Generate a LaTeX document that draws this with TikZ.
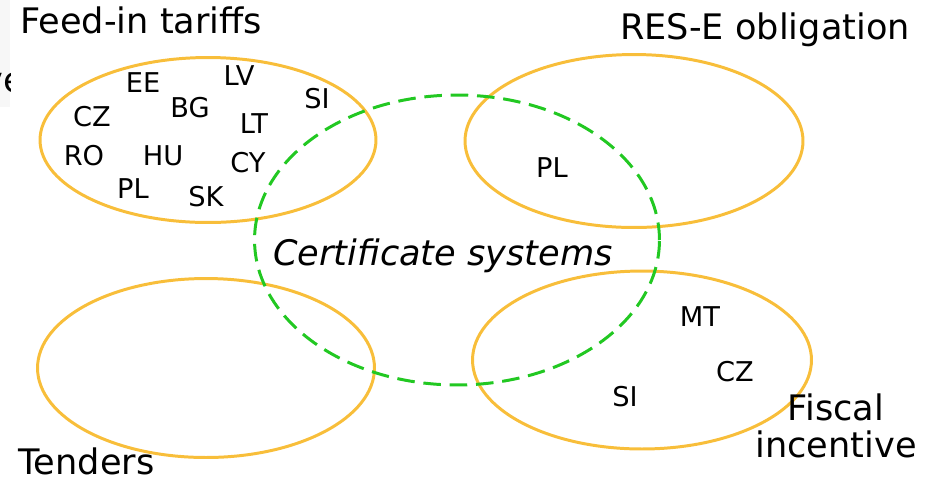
\documentclass[tikz,border=0pt]{standalone}
\usepackage{fontspec}
\setmainfont{DejaVu Sans}
\usetikzlibrary{shapes.geometric}

\definecolor{setorange}{RGB}{248,190,58}
\definecolor{certgreen}{RGB}{34,200,34}

\begin{document}
\begin{tikzpicture}[x=0.02cm, y=-0.02cm]

\tikzstyle{scheme}=[ellipse, draw=setorange, line width=1.7pt, inner sep=0pt]
\tikzstyle{cert}=[ellipse, draw=certgreen, line width=1.7pt, dash pattern=on 10pt off 5pt, inner sep=0pt]
\tikzstyle{title}=[inner sep=0pt, font=\fontsize{20}{21}\selectfont]
\tikzstyle{country}=[inner sep=0pt, font=\fontsize{15.5}{18}\selectfont]

\useasboundingbox (0,0) rectangle (932,478);

% cut-off text at the left border
\begin{scope}
\clip (0,0) rectangle (10,107);
\fill[gray!6] (0,0) rectangle (10,107);
\node (cut) [title, anchor=east] at (25,83) {ve};
\end{scope}

% the four support schemes and the certificate systems
\node (fit) [scheme, minimum width=6.72cm, minimum height=3.3cm]  at (208,140) {};
\node (rese)[scheme, minimum width=6.76cm, minimum height=3.46cm] at (634,141) {};
\node (tend)[scheme, minimum width=6.74cm, minimum height=3.58cm] at (206,368) {};
\node (fisc)[scheme, minimum width=6.78cm, minimum height=3.56cm] at (642,360) {};
\node (certs)[cert, minimum width=8.1cm, minimum height=5.8cm]   at (457,240) {};

\node (fitlabel)  [title, anchor=west] at (20,20)  {Feed-in tariffs};
\node (reselabel) [title, anchor=west] at (620,30) {RES-E obligation};
\node (tendlabel) [title, anchor=west] at (18,461) {Tenders};
\node (fisclabel) [title, align=center] at (836,426) {Fiscal\\incentive};
\node (certlabel) [title, font=\fontsize{20}{21}\selectfont\itshape] at (443,256) {Certificate systems};

% feed-in tariffs
\node (fitEE) [country] at (143,83)  {EE};
\node (fitLV) [country] at (239,76)  {LV};
\node (fitSI) [country] at (317,99)  {SI};
\node (fitCZ) [country] at (92,117)  {CZ};
\node (fitBG) [country] at (190,108) {BG};
\node (fitLT) [country] at (254,124) {LT};
\node (fitRO) [country] at (84,156)  {RO};
\node (fitHU) [country] at (163,156) {HU};
\node (fitCY) [country] at (248,163) {CY};
\node (fitPL) [country] at (133,189) {PL};
\node (fitSK) [country] at (206,197) {SK};

% RES-E obligation
\node (resePL) [country] at (552,168) {PL};

% fiscal incentive
\node (fiscMT) [country] at (700,317) {MT};
\node (fiscCZ) [country] at (735,372) {CZ};
\node (fiscSI) [country] at (625,397) {SI};

\end{tikzpicture}
\end{document}
